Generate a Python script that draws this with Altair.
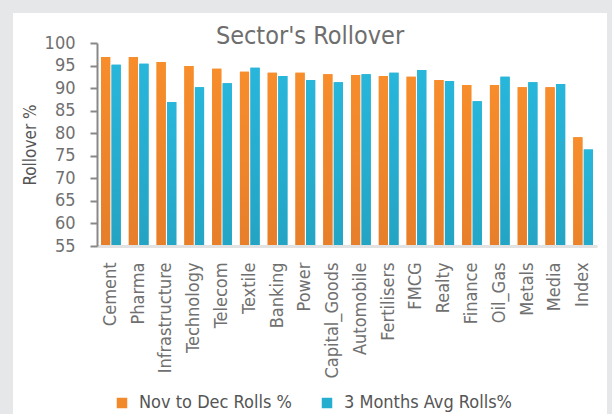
import altair as alt
import pandas as pd

sectors = ["Cement", "Pharma", "Infrastructure", "Technology", "Telecom", "Textile",
           "Banking", "Power", "Capital_Goods", "Automobile", "Fertilisers", "FMCG",
           "Realty", "Finance", "Oil_Gas", "Metals", "Media", "Index"]
nov_dec = [96.9, 96.9, 95.8, 94.9, 94.3, 93.6, 93.4, 93.4, 93.1, 92.9, 92.7, 92.5,
           91.8, 90.7, 90.7, 90.2, 90.2, 79.1]
avg3m = [95.2, 95.4, 86.9, 90.2, 91.1, 94.5, 92.7, 91.8, 91.3, 93.1, 93.4, 94.0,
         91.6, 87.1, 92.5, 91.3, 90.9, 76.4]
series = ["Nov to Dec Rolls %", "3 Months Avg Rolls%"]
chart_title = "Sector's Rollover"

rows = []
for s, a, b in zip(sectors, nov_dec, avg3m):
    rows.append({"sector": s, "series": series[0], "value": a})
    rows.append({"sector": s, "series": series[1], "value": b})
df = pd.DataFrame(rows)

FONT = "Liberation Sans Narrow, DejaVu Sans Condensed, sans-serif"

x_enc = alt.X("sector:N", sort=sectors,
              scale=alt.Scale(paddingInner=0.29, paddingOuter=0.145),
              axis=alt.Axis(title=None, labelAngle=-90, labelPadding=16,
                            labelFontSize=18, labelColor="#707070", labelFont=FONT,
                            ticks=False, domainColor="#e2e2e2", domainWidth=3,
                            labelBaseline="middle", labelAlign="right", zindex=1))
y_enc = alt.Y("value:Q", scale=alt.Scale(domain=[55, 100], zero=False, nice=False),
              axis=alt.Axis(title="Rollover %", values=list(range(55, 101, 5)),
                            grid=False, labelFontSize=18, labelColor="#707070",
                            labelFont=FONT, labelPadding=15, tickSize=7,
                            tickColor="#888888", tickWidth=2, domainColor="#888888",
                            domainWidth=2, titleFont=FONT, titleFontSize=17,
                            titleColor="#555555", titleFontWeight="normal",
                            titlePadding=5, zindex=1))
xo_enc = alt.XOffset("series:N", sort=series,
                     scale=alt.Scale(domain=series, paddingInner=0.13))

panel = alt.Chart(alt.Data(values=[{}])).mark_rect(color="white").encode(
    x=alt.value(-84), x2=alt.value(510), y=alt.value(-30), y2=alt.value(390))

title = alt.Chart(alt.Data(values=[{"t": chart_title}])).mark_text(
    font=FONT, fontSize=25, color="#6e6e6e", baseline="middle", align="center").encode(
    text="t:N", x=alt.value(213), y=alt.value(-7))

base = alt.Chart(df).mark_bar(clip=True).encode(
    x=x_enc, y=y_enc, xOffset=xo_enc,
    color=alt.Color("series:N", sort=series,
                    scale=alt.Scale(domain=series, range=["#f28a2c", "#26aed0"]),
                    legend=alt.Legend(title=None, orient="none", direction="horizontal",
                                      legendX=16, legendY=351, symbolType="square",
                                      symbolSize=110, symbolStrokeWidth=0,
                                      labelFontSize=18, labelColor="#555555",
                                      labelFont=FONT, columnPadding=26,
                                      labelOffset=8, labelLimit=400)))

def grad(top, bottom):
    return alt.Gradient(gradient="linear",
                        stops=[alt.GradientStop(color=top, offset=0),
                               alt.GradientStop(color=bottom, offset=1)],
                        x1=0, x2=0, y1=0, y2=1)

orange = alt.Chart(df).transform_filter(alt.datum.series == series[0]).mark_bar(
    clip=True, color=grad("#f78d2b", "#cf6a2a")).encode(x=x_enc, y=y_enc, xOffset=xo_enc)
blue = alt.Chart(df).transform_filter(alt.datum.series == series[1]).mark_bar(
    clip=True, color=grad("#28b6db", "#1f8aa1")).encode(x=x_enc, y=y_enc, xOffset=xo_enc)

chart = alt.layer(panel, title, base, orange, blue).properties(
    width=500, height=203,
    background="#e6e7e9",
    padding={"left": 97, "top": 43, "right": 15, "bottom": 168},
    autosize=alt.AutoSizeParams(type="none"),
).configure_view(stroke=None)

chart.save("out.html", embed_options={"renderer": "svg", "actions": False})
